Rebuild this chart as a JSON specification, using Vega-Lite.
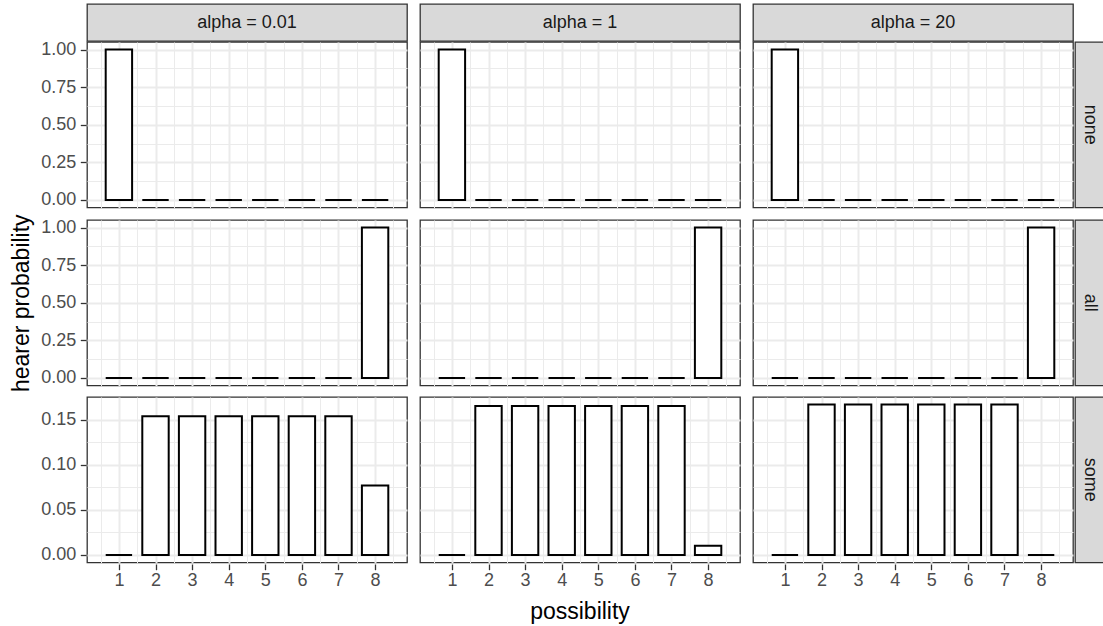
{
  "$schema": "https://vega.github.io/schema/vega-lite/v6.json",
  "padding": {"left": 10, "top": 3, "right": 0, "bottom": 0},
  "background": "white",
  "data": {"values": [
    {"pattern": "none", "alpha": 0.01, "possibility": 1, "prob": 1},
    {"pattern": "none", "alpha": 0.01, "possibility": 2, "prob": 0},
    {"pattern": "none", "alpha": 0.01, "possibility": 3, "prob": 0},
    {"pattern": "none", "alpha": 0.01, "possibility": 4, "prob": 0},
    {"pattern": "none", "alpha": 0.01, "possibility": 5, "prob": 0},
    {"pattern": "none", "alpha": 0.01, "possibility": 6, "prob": 0},
    {"pattern": "none", "alpha": 0.01, "possibility": 7, "prob": 0},
    {"pattern": "none", "alpha": 0.01, "possibility": 8, "prob": 0},
    {"pattern": "none", "alpha": 1, "possibility": 1, "prob": 1},
    {"pattern": "none", "alpha": 1, "possibility": 2, "prob": 0},
    {"pattern": "none", "alpha": 1, "possibility": 3, "prob": 0},
    {"pattern": "none", "alpha": 1, "possibility": 4, "prob": 0},
    {"pattern": "none", "alpha": 1, "possibility": 5, "prob": 0},
    {"pattern": "none", "alpha": 1, "possibility": 6, "prob": 0},
    {"pattern": "none", "alpha": 1, "possibility": 7, "prob": 0},
    {"pattern": "none", "alpha": 1, "possibility": 8, "prob": 0},
    {"pattern": "none", "alpha": 20, "possibility": 1, "prob": 1},
    {"pattern": "none", "alpha": 20, "possibility": 2, "prob": 0},
    {"pattern": "none", "alpha": 20, "possibility": 3, "prob": 0},
    {"pattern": "none", "alpha": 20, "possibility": 4, "prob": 0},
    {"pattern": "none", "alpha": 20, "possibility": 5, "prob": 0},
    {"pattern": "none", "alpha": 20, "possibility": 6, "prob": 0},
    {"pattern": "none", "alpha": 20, "possibility": 7, "prob": 0},
    {"pattern": "none", "alpha": 20, "possibility": 8, "prob": 0},
    {"pattern": "all", "alpha": 0.01, "possibility": 1, "prob": 0},
    {"pattern": "all", "alpha": 0.01, "possibility": 2, "prob": 0},
    {"pattern": "all", "alpha": 0.01, "possibility": 3, "prob": 0},
    {"pattern": "all", "alpha": 0.01, "possibility": 4, "prob": 0},
    {"pattern": "all", "alpha": 0.01, "possibility": 5, "prob": 0},
    {"pattern": "all", "alpha": 0.01, "possibility": 6, "prob": 0},
    {"pattern": "all", "alpha": 0.01, "possibility": 7, "prob": 0},
    {"pattern": "all", "alpha": 0.01, "possibility": 8, "prob": 1},
    {"pattern": "all", "alpha": 1, "possibility": 1, "prob": 0},
    {"pattern": "all", "alpha": 1, "possibility": 2, "prob": 0},
    {"pattern": "all", "alpha": 1, "possibility": 3, "prob": 0},
    {"pattern": "all", "alpha": 1, "possibility": 4, "prob": 0},
    {"pattern": "all", "alpha": 1, "possibility": 5, "prob": 0},
    {"pattern": "all", "alpha": 1, "possibility": 6, "prob": 0},
    {"pattern": "all", "alpha": 1, "possibility": 7, "prob": 0},
    {"pattern": "all", "alpha": 1, "possibility": 8, "prob": 1},
    {"pattern": "all", "alpha": 20, "possibility": 1, "prob": 0},
    {"pattern": "all", "alpha": 20, "possibility": 2, "prob": 0},
    {"pattern": "all", "alpha": 20, "possibility": 3, "prob": 0},
    {"pattern": "all", "alpha": 20, "possibility": 4, "prob": 0},
    {"pattern": "all", "alpha": 20, "possibility": 5, "prob": 0},
    {"pattern": "all", "alpha": 20, "possibility": 6, "prob": 0},
    {"pattern": "all", "alpha": 20, "possibility": 7, "prob": 0},
    {"pattern": "all", "alpha": 20, "possibility": 8, "prob": 1},
    {"pattern": "some", "alpha": 0.01, "possibility": 1, "prob": 0},
    {"pattern": "some", "alpha": 0.01, "possibility": 2, "prob": 0.1538},
    {"pattern": "some", "alpha": 0.01, "possibility": 3, "prob": 0.1538},
    {"pattern": "some", "alpha": 0.01, "possibility": 4, "prob": 0.1538},
    {"pattern": "some", "alpha": 0.01, "possibility": 5, "prob": 0.1538},
    {"pattern": "some", "alpha": 0.01, "possibility": 6, "prob": 0.1538},
    {"pattern": "some", "alpha": 0.01, "possibility": 7, "prob": 0.1538},
    {"pattern": "some", "alpha": 0.01, "possibility": 8, "prob": 0.0769},
    {"pattern": "some", "alpha": 1, "possibility": 1, "prob": 0},
    {"pattern": "some", "alpha": 1, "possibility": 2, "prob": 0.165},
    {"pattern": "some", "alpha": 1, "possibility": 3, "prob": 0.165},
    {"pattern": "some", "alpha": 1, "possibility": 4, "prob": 0.165},
    {"pattern": "some", "alpha": 1, "possibility": 5, "prob": 0.165},
    {"pattern": "some", "alpha": 1, "possibility": 6, "prob": 0.165},
    {"pattern": "some", "alpha": 1, "possibility": 7, "prob": 0.165},
    {"pattern": "some", "alpha": 1, "possibility": 8, "prob": 0.0101},
    {"pattern": "some", "alpha": 20, "possibility": 1, "prob": 0},
    {"pattern": "some", "alpha": 20, "possibility": 2, "prob": 0.1667},
    {"pattern": "some", "alpha": 20, "possibility": 3, "prob": 0.1667},
    {"pattern": "some", "alpha": 20, "possibility": 4, "prob": 0.1667},
    {"pattern": "some", "alpha": 20, "possibility": 5, "prob": 0.1667},
    {"pattern": "some", "alpha": 20, "possibility": 6, "prob": 0.1667},
    {"pattern": "some", "alpha": 20, "possibility": 7, "prob": 0.1667},
    {"pattern": "some", "alpha": 20, "possibility": 8, "prob": 0}
  ]},
  "config": {
    "font": "Liberation Sans",
    "view": {"stroke": "#333333", "strokeWidth": 1.3},
    "axis": {"domain": false, "tickColor": "#333333", "tickSize": 5.7, "tickWidth": 1.3, "labelColor": "#4D4D4D", "labelFontSize": 18, "labelFont": "Liberation Sans", "labelPadding": 4.5, "gridColor": "#EBEBEB", "labelOverlap": false, "labelFlush": false, "titleFont": "Liberation Sans", "titleFontSize": 23, "titleFontWeight": "normal", "titleColor": "#000000", "titlePadding": 7},
    "text": {"font": "Liberation Sans"}
  },
  "spacing": -3,
  "vconcat": [
    {
      "transform": [{"filter": "datum.pattern === 'none' && datum.possibility === 1"}, {"calculate": "'alpha = ' + datum.alpha", "as": "label"}],
      "facet": {"column": {"field": "alpha", "type": "ordinal", "header": {"labels": false, "title": null}}},
      "spacing": 11,
      "spec": {
        "width": 320, "height": 37,
        "view": {"fill": "#D9D9D9", "stroke": "#333333", "strokeWidth": 1.3},
        "mark": {"type": "text", "fontSize": 18, "color": "#1A1A1A", "font": "Liberation Sans"},
        "encoding": {
          "text": {"field": "label"},
          "y": {"datum": 0.5, "type": "quantitative", "scale": {"domain": [0, 1]}, "axis": {"values": [0.5], "labelExpr": "'0.00'", "labelOpacity": 0, "tickOpacity": 0, "grid": false, "title": "x", "titleOpacity": 0}}
        }
      }
    },
    {
      "spacing": 4,
      "vconcat": [
        {
          "spacing": 0,
          "hconcat": [
            {
              "transform": [{"filter": "datum.pattern === 'none'"}],
              "facet": {"column": {"field": "alpha", "type": "ordinal", "header": {"labels": false, "title": null}}},
              "spacing": 11,
              "spec": {
                "width": 320, "height": 165.5,
                "view": {"stroke": "#333333", "strokeWidth": 1.3},
                "mark": {"type": "bar", "fill": "white", "stroke": "black", "strokeWidth": 2, "width": 26.4},
                "encoding": {
                  "x": {"field": "possibility", "type": "quantitative", "scale": {"domain": [0.265, 8.735], "nice": false, "zero": false},
                        "axis": {"values": [0.5,1,1.5,2,2.5,3,3.5,4,4.5,5,5.5,6,6.5,7,7.5,8,8.5], "labels": false, "ticks": false, "title": null,
                                 "gridWidth": {"condition": {"test": "round(datum.value*2) % 2 !== 0", "value": 1}, "value": 2}}},
                  "y": {"field": "prob", "type": "quantitative", "scale": {"domain": [-0.05, 1.05], "nice": false, "zero": true},
                        "axis": {"values": [0,0.125,0.25,0.375,0.5,0.625,0.75,0.875,1], "title": "x", "titleOpacity": 0,
                                 "labelExpr": "round(datum.value*8) % 2 === 0 ? format(datum.value, '.2f') : ''",
                                 "tickOpacity": {"condition": {"test": "round(datum.value*8) % 2 !== 0", "value": 0}, "value": 1},
                                 "gridWidth": {"condition": {"test": "round(datum.value*8) % 2 !== 0", "value": 1}, "value": 2}}}
                }
              }
            },
            {
              "transform": [{"filter": "datum.pattern === 'none' && datum.possibility === 1 && datum.alpha === 20"}],
              "width": 30, "height": 165.5,
              "view": {"fill": "#D9D9D9", "stroke": "#333333", "strokeWidth": 1.3},
              "mark": {"type": "text", "angle": 90, "fontSize": 18, "color": "#1A1A1A"},
              "encoding": {"text": {"field": "pattern"}}
            }
          ]
        },
        {
          "spacing": 0,
          "hconcat": [
            {
              "transform": [{"filter": "datum.pattern === 'all'"}],
              "facet": {"column": {"field": "alpha", "type": "ordinal", "header": {"labels": false, "title": null}}},
              "spacing": 11,
              "spec": {
                "width": 320, "height": 165.5,
                "view": {"stroke": "#333333", "strokeWidth": 1.3},
                "mark": {"type": "bar", "fill": "white", "stroke": "black", "strokeWidth": 2, "width": 26.4},
                "encoding": {
                  "x": {"field": "possibility", "type": "quantitative", "scale": {"domain": [0.265, 8.735], "nice": false, "zero": false},
                        "axis": {"values": [0.5,1,1.5,2,2.5,3,3.5,4,4.5,5,5.5,6,6.5,7,7.5,8,8.5], "labels": false, "ticks": false, "title": null,
                                 "gridWidth": {"condition": {"test": "round(datum.value*2) % 2 !== 0", "value": 1}, "value": 2}}},
                  "y": {"field": "prob", "type": "quantitative", "scale": {"domain": [-0.05, 1.05], "nice": false, "zero": true},
                        "axis": {"values": [0,0.125,0.25,0.375,0.5,0.625,0.75,0.875,1], "title": "hearer probability",
                                 "labelExpr": "round(datum.value*8) % 2 === 0 ? format(datum.value, '.2f') : ''",
                                 "tickOpacity": {"condition": {"test": "round(datum.value*8) % 2 !== 0", "value": 0}, "value": 1},
                                 "gridWidth": {"condition": {"test": "round(datum.value*8) % 2 !== 0", "value": 1}, "value": 2}}}
                }
              }
            },
            {
              "transform": [{"filter": "datum.pattern === 'all' && datum.possibility === 1 && datum.alpha === 20"}],
              "width": 30, "height": 165.5,
              "view": {"fill": "#D9D9D9", "stroke": "#333333", "strokeWidth": 1.3},
              "mark": {"type": "text", "angle": 90, "fontSize": 18, "color": "#1A1A1A"},
              "encoding": {"text": {"field": "pattern"}}
            }
          ]
        },
        {
          "spacing": 0,
          "hconcat": [
            {
              "transform": [{"filter": "datum.pattern === 'some'"}],
              "facet": {"column": {"field": "alpha", "type": "ordinal", "header": {"labels": false, "title": "possibility", "titleOrient": "bottom", "titleFontSize": 23, "titleFontWeight": "normal", "titleColor": "#000000", "titleFont": "Liberation Sans", "titlePadding": 1}}},
              "spacing": 11,
              "spec": {
                "width": 320, "height": 165.5,
                "view": {"stroke": "#333333", "strokeWidth": 1.3},
                "mark": {"type": "bar", "fill": "white", "stroke": "black", "strokeWidth": 2, "width": 26.4},
                "encoding": {
                  "x": {"field": "possibility", "type": "quantitative", "scale": {"domain": [0.265, 8.735], "nice": false, "zero": false},
                        "axis": {"values": [0.5,1,1.5,2,2.5,3,3.5,4,4.5,5,5.5,6,6.5,7,7.5,8,8.5], "title": null, "labelPadding": 2,
                                 "labelExpr": "round(datum.value*2) % 2 === 0 ? datum.value : ''",
                                 "tickOpacity": {"condition": {"test": "round(datum.value*2) % 2 !== 0", "value": 0}, "value": 1},
                                 "gridWidth": {"condition": {"test": "round(datum.value*2) % 2 !== 0", "value": 1}, "value": 2}}},
                  "y": {"field": "prob", "type": "quantitative", "scale": {"domain": [-0.00833, 0.175], "nice": false, "zero": true},
                        "axis": {"values": [0,0.025,0.05,0.075,0.1,0.125,0.15], "title": "x", "titleOpacity": 0,
                                 "labelExpr": "round(datum.value*40) % 2 === 0 ? format(datum.value, '.2f') : ''",
                                 "tickOpacity": {"condition": {"test": "round(datum.value*40) % 2 !== 0", "value": 0}, "value": 1},
                                 "gridWidth": {"condition": {"test": "round(datum.value*40) % 2 !== 0", "value": 1}, "value": 2}}}
                }
              }
            },
            {
              "transform": [{"filter": "datum.pattern === 'some' && datum.possibility === 1 && datum.alpha === 20"}],
              "width": 30, "height": 165.5,
              "view": {"fill": "#D9D9D9", "stroke": "#333333", "strokeWidth": 1.3},
              "mark": {"type": "text", "angle": 90, "fontSize": 18, "color": "#1A1A1A"},
              "encoding": {"text": {"field": "pattern"}}
            }
          ]
        }
      ]
    }
  ]
}
